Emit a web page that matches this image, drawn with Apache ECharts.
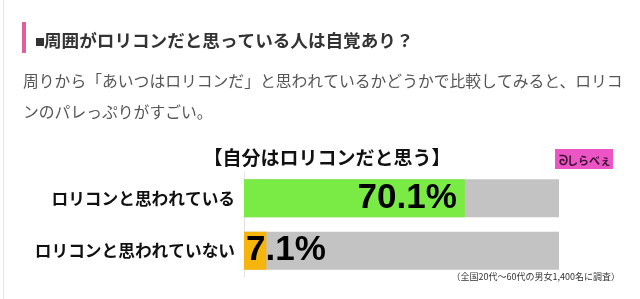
<!DOCTYPE html>
<html><head><meta charset="utf-8">
<script src="https://cdn.jsdelivr.net/npm/echarts@6/dist/echarts.min.js"></script>
<style>html,body{margin:0;padding:0;background:#fff}#c{width:640px;height:299px}</style>
</head><body><div id="c"></div>
<script>
const heading = '周囲がロリコンだと思っている人は自覚あり？';
const paragraph1 = '周りから「あいつはロリコンだ」と思われているかどうかで比較してみると、ロリコ';
const paragraph2 = 'ンのパレっぷりがすごい。';
const chartTitle = '【自分はロリコンだと思う】';
const footnote = '（全国20代～60代の男女1,400名に調査）';
const categories = ['ロリコンと思われている', 'ロリコンと思われていない'];
const values = [70.1, 7.1];
const barColors = ['#7aeb45', '#f6b50c'];

const JP = '"Noto Sans CJK JP", sans-serif';
const chart = echarts.init(document.getElementById('c'), null, {renderer: 'canvas'});
chart.setOption({
  animation: false,
  backgroundColor: '#fff',
  grid: {left: 244, right: 81, top: 172, height: 105},
  xAxis: {type: 'value', min: 0, max: 100, show: false},
  yAxis: {
    type: 'category', data: categories, inverse: true,
    axisTick: {show: false},
    axisLine: {show: true, lineStyle: {color: '#e2e2e2'}},
    axisLabel: {fontSize: 16.7, fontWeight: 'bold', color: '#111', margin: 9, fontFamily: JP}
  },
  series: [{
    type: 'bar', barWidth: 38,
    showBackground: true,
    backgroundStyle: {color: '#c3c3c3'},
    data: values.map((v, i) => ({
      value: v,
      itemStyle: {color: barColors[i]},
      label: {position: i === 0 ? 'insideRight' : 'insideLeft', distance: i === 0 ? 8 : 2}
    })),
    label: {
      show: true, color: '#000', fontSize: 35, fontWeight: 'bold',
      fontFamily: '"Liberation Sans", Arial, sans-serif',
      formatter: p => p.value.toFixed(1) + '%'
    }
  }],
  graphic: [
    {type: 'rect', shape: {x: 3, y: 0, width: 1, height: 299}, style: {fill: '#e4e4e4'}},
    {type: 'rect', shape: {x: 22, y: 22, width: 4, height: 31}, style: {fill: '#e0609f'}},
    {type: 'text', style: {text: '■', x: 35, y: 42, fill: '#333', fontSize: 10, fontFamily: JP, textVerticalAlign: 'middle'}},
    {type: 'text', style: {text: heading, x: 44, y: 40, fill: '#333', fontSize: 17.6, fontWeight: 'bold', fontFamily: JP, textVerticalAlign: 'middle'}},
    {type: 'text', style: {text: paragraph1, x: 23, y: 81, fill: '#555', fontSize: 15.8, fontFamily: JP, textVerticalAlign: 'middle'}},
    {type: 'text', style: {text: paragraph2, x: 23, y: 112, fill: '#555', fontSize: 15.8, fontFamily: JP, textVerticalAlign: 'middle'}},
    {type: 'text', style: {text: chartTitle, x: 327, y: 158, fill: '#111', fontSize: 19, fontWeight: 'bold', fontFamily: JP, textAlign: 'center', textVerticalAlign: 'middle'}},
    {type: 'rect', shape: {x: 555, y: 149, width: 58, height: 20}, style: {fill: '#ee55c4'}},
    {type: 'text', style: {text: 'しらべぇ', x: 589, y: 161, fill: '#3a1030', fontSize: 11, fontWeight: 'bold', fontFamily: JP, textAlign: 'center', textVerticalAlign: 'middle'}},
    {type: 'text', style: {text: 'ᘐ', x: 563, y: 160, fill: '#3a1030', fontSize: 13, fontWeight: 'bold', fontFamily: JP, textAlign: 'center', textVerticalAlign: 'middle'}},
    {type: 'text', style: {text: footnote, x: 620, y: 277, fill: '#333', fontSize: 9, fontFamily: JP, textAlign: 'right', textVerticalAlign: 'middle'}}
  ]
});
</script></body></html>
